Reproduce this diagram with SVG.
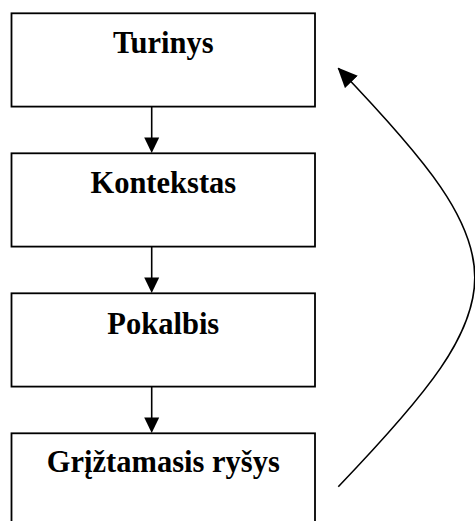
<svg xmlns="http://www.w3.org/2000/svg" width="475" height="521" viewBox="0 0 475 521">
<style>
.box{fill:#fff;stroke:#000;stroke-width:1.8}
.lbl{font-family:"Liberation Serif","Times New Roman",serif;font-weight:bold;font-size:30.5px;text-anchor:middle;fill:#000}
.conn{fill:none;stroke:#000;stroke-width:1.6}
.head{fill:#000}
</style>
<defs>
<marker id="ah" markerUnits="userSpaceOnUse" markerWidth="20" markerHeight="20" viewBox="0 0 18 16" refX="17" refY="8" orient="auto">
<path d="M0,0 L18,8 L0,16 Z" fill="#000"/>
</marker>
</defs>
<rect width="475" height="521" fill="#fff"/>
<g id="n1"><rect class="box" x="11.5" y="13.3" width="303.5" height="93.3"/><text class="lbl" x="163.3" y="53">Turinys</text></g>
<g id="n2"><rect class="box" x="11.5" y="153.3" width="303.5" height="93.3"/><text class="lbl" x="163.3" y="193">Kontekstas</text></g>
<g id="n3"><rect class="box" x="11.5" y="293.3" width="303.5" height="93.3"/><text class="lbl" x="163.3" y="334">Pokalbis</text></g>
<g id="n4"><rect class="box" x="11.5" y="433.3" width="303.5" height="100"/><text class="lbl" x="163.3" y="472">Grįžtamasis ryšys</text></g>
<g id="connectors">
<line class="conn" x1="151.7" y1="106.6" x2="151.7" y2="139"/>
<path class="head" d="M144.2,137.5 L159.2,137.5 L151.7,153 Z"/>
<line class="conn" x1="151.7" y1="246.6" x2="151.7" y2="279"/>
<path class="head" d="M144.2,277.5 L159.2,277.5 L151.7,293 Z"/>
<line class="conn" x1="151.7" y1="386.6" x2="151.7" y2="419"/>
<path class="head" d="M144.2,417.5 L159.2,417.5 L151.7,433 Z"/>
<path class="conn" d="M338.3,486.7 C520.3,296.7 520.3,258.3 338.3,68.3" marker-end="url(#ah)"/>
</g>
</svg>
